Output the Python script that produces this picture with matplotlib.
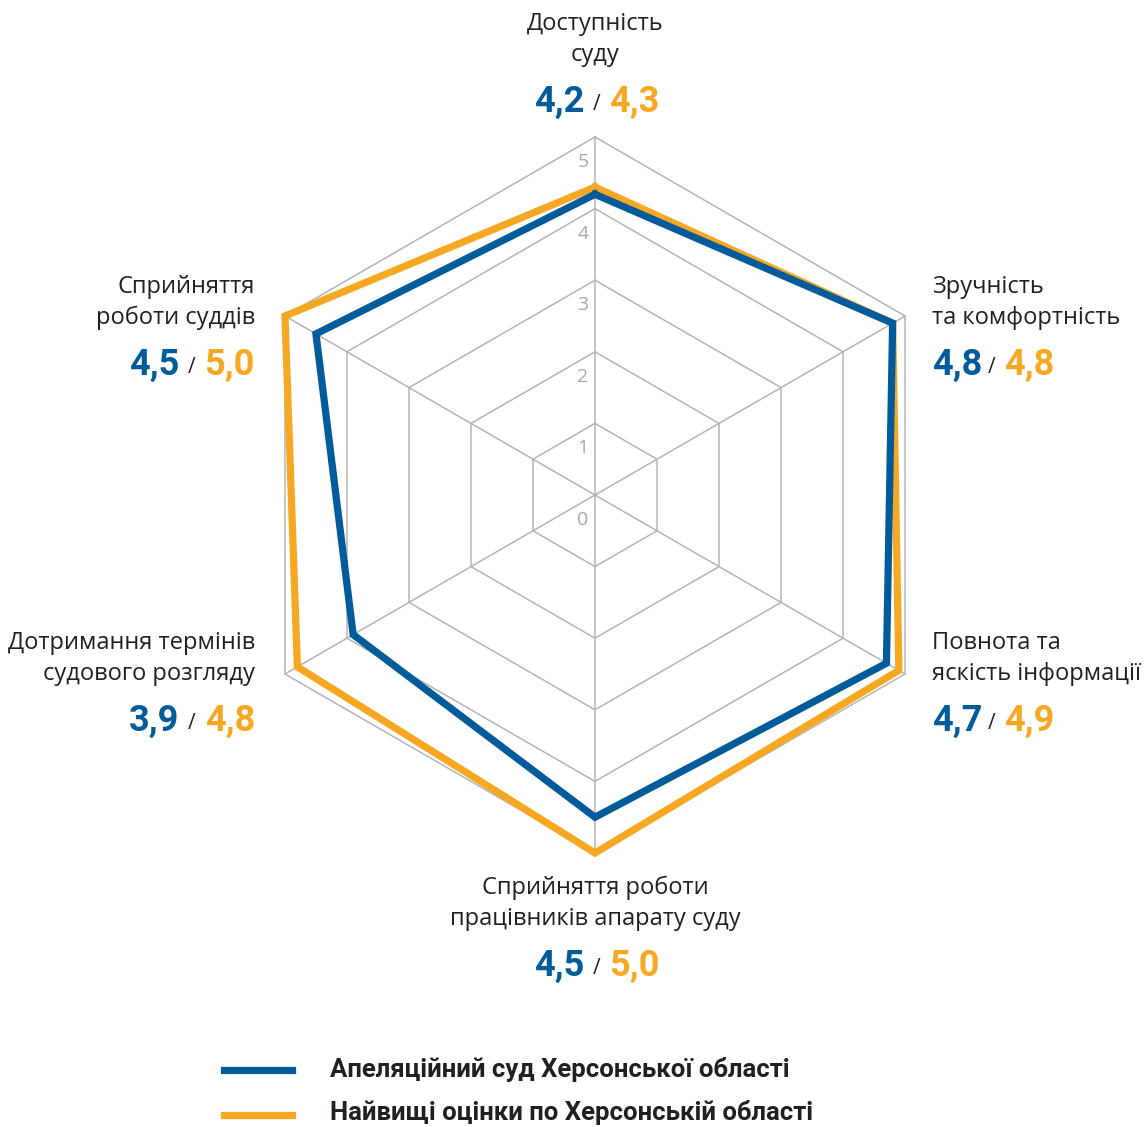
import numpy as np
import matplotlib
matplotlib.use('Agg')
from matplotlib import pyplot as plt
from matplotlib.lines import Line2D

# data
categories = [
    'Доступність\nсуду',
    'Зручність\nта комфортність',
    'Повнота та\nяскість інформації',
    'Сприйняття роботи\nпрацівників апарату суду',
    'Дотримання термінів\nсудового розгляду',
    'Сприйняття\nроботи суддів',
]
court = [4.2, 4.8, 4.7, 4.5, 3.9, 4.5]
best = [4.3, 4.8, 4.9, 5.0, 4.8, 5.0]
ticks = [0, 1, 2, 3, 4, 5]
legend_labels = ['Апеляційний суд Херсонської області',
                 'Найвищі оцінки по Херсонській області']

BLUE = '#005b9a'
ORANGE = '#f7a823'
GRID = '#b5b5b5'
TEXT = '#231f20'

W, H = 1147, 1127
cx, cy = 595, 495          # centre of the radar, px from top-left
scale = 71.6               # px per unit

fig = plt.figure(figsize=(W / 100, H / 100), dpi=100)
ax = fig.add_axes([0, 0, 1, 1])
ax.set_xlim(-cx / scale, (W - cx) / scale)
ax.set_ylim(-(H - cy) / scale, cy / scale)
ax.axis('off')

angles = np.deg2rad(90 - 60 * np.arange(len(categories)))


def to_xy(vals):
    vals = np.asarray(vals, dtype=float)
    x = vals * np.cos(angles)
    y = vals * np.sin(angles)
    return np.append(x, x[0]), np.append(y, y[0])


# grid
for t in ticks[1:]:
    gx, gy = to_xy([t] * len(categories))
    ax.plot(gx, gy, color=GRID, lw=1.1, zorder=1)
for a in angles:
    ax.plot([0, ticks[-1] * np.cos(a)], [0, ticks[-1] * np.sin(a)],
            color=GRID, lw=1.1, zorder=1)
for t in ticks:
    ax.annotate(str(t), xy=(0, t), xytext=(-12, -25), textcoords='offset pixels',
                ha='center', va='center', fontsize=14, color='#a8a8a8',
                family='Open Sans')

# series
bx, by = to_xy(best)
ax.plot(bx, by, color=ORANGE, lw=5.2, solid_joinstyle='miter', zorder=3)
px_, py_ = to_xy(court)
ax.plot(px_, py_, color=BLUE, lw=5.2, solid_joinstyle='miter', zorder=4)


def ftext(x, y, s, **kw):
    return fig.text(x / W, 1 - y / H, s, **kw)


label_font = dict(family='Open Sans', fontsize=17, color=TEXT)
num_font = dict(family='Roboto', fontweight='bold', fontsize=26)

# label positions: (x, first baseline, anchor)
label_pos = [
    (595, 30, 'center'),
    (932, 293, 'left'),
    (932, 649, 'left'),
    (595, 894, 'center'),
    (255, 649, 'right'),
    (255, 293, 'right'),
]
for cat, c, b, (x, y, ha) in zip(categories, court, best, label_pos):
    lines = cat.split('\n')
    for i, line in enumerate(lines):
        ftext(x, y + 31 * i, line, ha=ha, va='baseline', **label_font)
    vy = y + 31 * (len(lines) - 1) + 51
    cs = '{:.1f}'.format(c).replace('.', ',')
    bs = '{:.1f}'.format(b).replace('.', ',')
    if ha == 'center':
        sx = x + 2
    elif ha == 'left':
        sx = x + 60
    else:
        sx = x - 63
    ftext(sx, vy - 2, '/', ha='center', va='baseline', family='Open Sans',
          fontsize=15, color=TEXT)
    if ha == 'left':
        ftext(x, vy, cs, ha='left', va='baseline', color=BLUE, **num_font)
    else:
        ftext(sx - 13, vy, cs, ha='right', va='baseline', color=BLUE, **num_font)
    if ha == 'right':
        ftext(x, vy, bs, ha='right', va='baseline', color=ORANGE, **num_font)
    else:
        ftext(sx + 12, vy, bs, ha='left', va='baseline', color=ORANGE, **num_font)

# legend
for (yy, col, lab, base) in [(1070, BLUE, legend_labels[0], 1077),
                             (1115, ORANGE, legend_labels[1], 1120)]:
    fig.add_artist(Line2D([224 / W, 292 / W], [1 - yy / H, 1 - yy / H],
                          color=col, lw=5.2, transform=fig.transFigure))
    ftext(330, base, lab, ha='left', va='baseline', family='Roboto',
          fontweight='bold', fontsize=18.5, color=TEXT)

fig.savefig('out.png', dpi=100)
